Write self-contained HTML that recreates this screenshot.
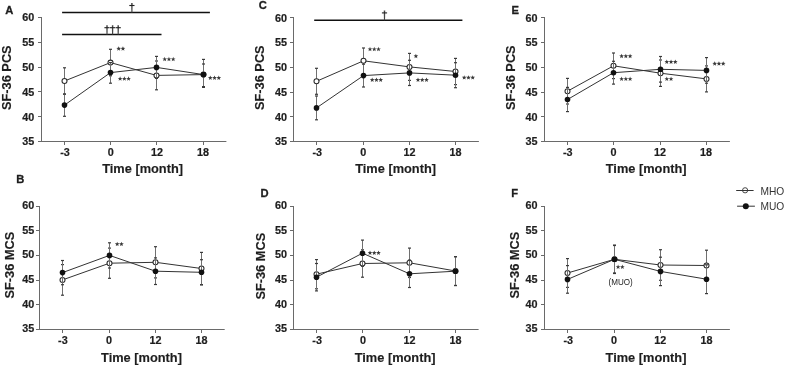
<!DOCTYPE html>
<html><head><meta charset="utf-8"><title>SF-36 PCS and MCS over time</title><style>
html,body{margin:0;padding:0;background:#fff;}
body{width:787px;height:365px;overflow:hidden;position:relative;}
text{font-family:"Liberation Sans", sans-serif;}
.tk{font-size:10.8px;font-weight:bold;fill:#1e1e1e;stroke:#1e1e1e;stroke-width:0.2px;}
.ti{font-size:12.8px;font-weight:bold;fill:#1e1e1e;stroke:#1e1e1e;stroke-width:0.15px;}
.lt{font-size:11.2px;font-weight:bold;fill:#1e1e1e;stroke:#1e1e1e;stroke-width:0.3px;}
.st{font-size:10px;fill:#444;}
.dg{font-size:11px;fill:#222;}
.lg{font-size:10.2px;fill:#333;}
.mu{font-size:8.2px;fill:#222;}
</style></head>
<body>
<svg width="787" height="365" viewBox="0 0 787 365" style="position:absolute;left:0;top:0;filter:blur(0.35px)">
<rect width="787" height="365" fill="#fff"/>
<line x1="41.50" y1="17.00" x2="41.50" y2="142.00" stroke="#6a6a6a" stroke-width="1"/>
<line x1="41.00" y1="141.50" x2="226.40" y2="141.50" stroke="#6a6a6a" stroke-width="1"/>
<line x1="38.00" y1="141.50" x2="41.50" y2="141.50" stroke="#6a6a6a" stroke-width="1"/>
<text x="34.20" y="145.35" text-anchor="end" class="tk">35</text>
<line x1="38.00" y1="116.50" x2="41.50" y2="116.50" stroke="#6a6a6a" stroke-width="1"/>
<text x="34.20" y="120.57" text-anchor="end" class="tk">40</text>
<line x1="38.00" y1="91.50" x2="41.50" y2="91.50" stroke="#6a6a6a" stroke-width="1"/>
<text x="34.20" y="95.79" text-anchor="end" class="tk">45</text>
<line x1="38.00" y1="67.50" x2="41.50" y2="67.50" stroke="#6a6a6a" stroke-width="1"/>
<text x="34.20" y="71.01" text-anchor="end" class="tk">50</text>
<line x1="38.00" y1="42.50" x2="41.50" y2="42.50" stroke="#6a6a6a" stroke-width="1"/>
<text x="34.20" y="46.23" text-anchor="end" class="tk">55</text>
<line x1="38.00" y1="17.50" x2="41.50" y2="17.50" stroke="#6a6a6a" stroke-width="1"/>
<text x="34.20" y="21.45" text-anchor="end" class="tk">60</text>
<line x1="64.50" y1="141.50" x2="64.50" y2="145.00" stroke="#6a6a6a" stroke-width="1"/>
<text x="65.00" y="155.60" text-anchor="middle" class="tk">-3</text>
<line x1="110.50" y1="141.50" x2="110.50" y2="145.00" stroke="#6a6a6a" stroke-width="1"/>
<text x="110.70" y="155.60" text-anchor="middle" class="tk">0</text>
<line x1="156.50" y1="141.50" x2="156.50" y2="145.00" stroke="#6a6a6a" stroke-width="1"/>
<text x="156.90" y="155.60" text-anchor="middle" class="tk">12</text>
<line x1="203.50" y1="141.50" x2="203.50" y2="145.00" stroke="#6a6a6a" stroke-width="1"/>
<text x="203.10" y="155.60" text-anchor="middle" class="tk">18</text>
<text transform="translate(11.10,77.70) rotate(-90)" text-anchor="middle" class="ti">SF-36 PCS</text>
<text x="142.60" y="173.20" text-anchor="middle" class="ti">Time [month]</text>
<text x="5.20" y="13.60" class="lt">A</text>
<line x1="64.50" y1="67.80" x2="64.50" y2="94.20" stroke="#707070" stroke-width="1"/>
<line x1="63.00" y1="67.80" x2="66.00" y2="67.80" stroke="#3a3a3a" stroke-width="1.2"/>
<line x1="63.00" y1="94.20" x2="66.00" y2="94.20" stroke="#3a3a3a" stroke-width="1.2"/>
<line x1="110.50" y1="49.30" x2="110.50" y2="75.80" stroke="#707070" stroke-width="1"/>
<line x1="109.00" y1="49.30" x2="112.00" y2="49.30" stroke="#3a3a3a" stroke-width="1.2"/>
<line x1="109.00" y1="75.80" x2="112.00" y2="75.80" stroke="#3a3a3a" stroke-width="1.2"/>
<line x1="156.50" y1="61.00" x2="156.50" y2="89.80" stroke="#707070" stroke-width="1"/>
<line x1="155.00" y1="61.00" x2="158.00" y2="61.00" stroke="#3a3a3a" stroke-width="1.2"/>
<line x1="155.00" y1="89.80" x2="158.00" y2="89.80" stroke="#3a3a3a" stroke-width="1.2"/>
<line x1="203.50" y1="59.40" x2="203.50" y2="87.40" stroke="#707070" stroke-width="1"/>
<line x1="202.00" y1="59.40" x2="205.00" y2="59.40" stroke="#3a3a3a" stroke-width="1.2"/>
<line x1="202.00" y1="87.40" x2="205.00" y2="87.40" stroke="#3a3a3a" stroke-width="1.2"/>
<polyline points="64.50,81.00 110.50,62.60 156.50,75.40 203.50,74.60" fill="none" stroke="#333" stroke-width="1"/>
<circle cx="64.50" cy="81.00" r="2.5" fill="#fff" stroke="#2a2a2a" stroke-width="1.05"/>
<circle cx="110.50" cy="62.60" r="2.5" fill="#fff" stroke="#2a2a2a" stroke-width="1.05"/>
<circle cx="156.50" cy="75.40" r="2.5" fill="#fff" stroke="#2a2a2a" stroke-width="1.05"/>
<circle cx="203.50" cy="74.60" r="2.5" fill="#fff" stroke="#2a2a2a" stroke-width="1.05"/>
<line x1="64.50" y1="94.00" x2="64.50" y2="116.30" stroke="#707070" stroke-width="1"/>
<line x1="63.00" y1="94.00" x2="66.00" y2="94.00" stroke="#3a3a3a" stroke-width="1.2"/>
<line x1="63.00" y1="116.30" x2="66.00" y2="116.30" stroke="#3a3a3a" stroke-width="1.2"/>
<line x1="110.50" y1="62.60" x2="110.50" y2="83.20" stroke="#707070" stroke-width="1"/>
<line x1="109.00" y1="62.60" x2="112.00" y2="62.60" stroke="#3a3a3a" stroke-width="1.2"/>
<line x1="109.00" y1="83.20" x2="112.00" y2="83.20" stroke="#3a3a3a" stroke-width="1.2"/>
<line x1="156.50" y1="56.40" x2="156.50" y2="78.40" stroke="#707070" stroke-width="1"/>
<line x1="155.00" y1="56.40" x2="158.00" y2="56.40" stroke="#3a3a3a" stroke-width="1.2"/>
<line x1="155.00" y1="78.40" x2="158.00" y2="78.40" stroke="#3a3a3a" stroke-width="1.2"/>
<line x1="203.50" y1="64.00" x2="203.50" y2="86.60" stroke="#707070" stroke-width="1"/>
<line x1="202.00" y1="64.00" x2="205.00" y2="64.00" stroke="#3a3a3a" stroke-width="1.2"/>
<line x1="202.00" y1="86.60" x2="205.00" y2="86.60" stroke="#3a3a3a" stroke-width="1.2"/>
<polyline points="64.50,105.10 110.50,72.60 156.50,67.40 203.50,74.60" fill="none" stroke="#333" stroke-width="1"/>
<circle cx="64.50" cy="105.10" r="2.8" fill="#111"/>
<circle cx="110.50" cy="72.60" r="2.8" fill="#111"/>
<circle cx="156.50" cy="67.40" r="2.8" fill="#111"/>
<circle cx="203.50" cy="74.60" r="2.8" fill="#111"/>
<line x1="39.50" y1="206.00" x2="39.50" y2="330.00" stroke="#6a6a6a" stroke-width="1"/>
<line x1="39.00" y1="329.50" x2="224.70" y2="329.50" stroke="#6a6a6a" stroke-width="1"/>
<line x1="36.00" y1="329.50" x2="39.50" y2="329.50" stroke="#6a6a6a" stroke-width="1"/>
<text x="34.30" y="332.35" text-anchor="end" class="tk">35</text>
<line x1="36.00" y1="304.50" x2="39.50" y2="304.50" stroke="#6a6a6a" stroke-width="1"/>
<text x="34.30" y="307.67" text-anchor="end" class="tk">40</text>
<line x1="36.00" y1="280.50" x2="39.50" y2="280.50" stroke="#6a6a6a" stroke-width="1"/>
<text x="34.30" y="282.99" text-anchor="end" class="tk">45</text>
<line x1="36.00" y1="255.50" x2="39.50" y2="255.50" stroke="#6a6a6a" stroke-width="1"/>
<text x="34.30" y="258.31" text-anchor="end" class="tk">50</text>
<line x1="36.00" y1="230.50" x2="39.50" y2="230.50" stroke="#6a6a6a" stroke-width="1"/>
<text x="34.30" y="233.63" text-anchor="end" class="tk">55</text>
<line x1="36.00" y1="206.50" x2="39.50" y2="206.50" stroke="#6a6a6a" stroke-width="1"/>
<text x="34.30" y="208.95" text-anchor="end" class="tk">60</text>
<line x1="62.50" y1="329.50" x2="62.50" y2="333.00" stroke="#6a6a6a" stroke-width="1"/>
<text x="62.90" y="343.50" text-anchor="middle" class="tk">-3</text>
<line x1="109.50" y1="329.50" x2="109.50" y2="333.00" stroke="#6a6a6a" stroke-width="1"/>
<text x="109.10" y="343.50" text-anchor="middle" class="tk">0</text>
<line x1="155.50" y1="329.50" x2="155.50" y2="333.00" stroke="#6a6a6a" stroke-width="1"/>
<text x="155.50" y="343.50" text-anchor="middle" class="tk">12</text>
<line x1="201.50" y1="329.50" x2="201.50" y2="333.00" stroke="#6a6a6a" stroke-width="1"/>
<text x="201.40" y="343.50" text-anchor="middle" class="tk">18</text>
<text transform="translate(14.40,265.10) rotate(-90)" text-anchor="middle" class="ti">SF-36 MCS</text>
<text x="141.50" y="362.00" text-anchor="middle" class="ti">Time [month]</text>
<text x="16.30" y="182.80" class="lt">B</text>
<line x1="62.50" y1="264.60" x2="62.50" y2="295.20" stroke="#707070" stroke-width="1"/>
<line x1="61.00" y1="264.60" x2="64.00" y2="264.60" stroke="#3a3a3a" stroke-width="1.2"/>
<line x1="61.00" y1="295.20" x2="64.00" y2="295.20" stroke="#3a3a3a" stroke-width="1.2"/>
<line x1="109.50" y1="248.10" x2="109.50" y2="278.30" stroke="#707070" stroke-width="1"/>
<line x1="108.00" y1="248.10" x2="111.00" y2="248.10" stroke="#3a3a3a" stroke-width="1.2"/>
<line x1="108.00" y1="278.30" x2="111.00" y2="278.30" stroke="#3a3a3a" stroke-width="1.2"/>
<line x1="155.50" y1="246.70" x2="155.50" y2="277.90" stroke="#707070" stroke-width="1"/>
<line x1="154.00" y1="246.70" x2="157.00" y2="246.70" stroke="#3a3a3a" stroke-width="1.2"/>
<line x1="154.00" y1="277.90" x2="157.00" y2="277.90" stroke="#3a3a3a" stroke-width="1.2"/>
<line x1="201.50" y1="252.40" x2="201.50" y2="284.60" stroke="#707070" stroke-width="1"/>
<line x1="200.00" y1="252.40" x2="203.00" y2="252.40" stroke="#3a3a3a" stroke-width="1.2"/>
<line x1="200.00" y1="284.60" x2="203.00" y2="284.60" stroke="#3a3a3a" stroke-width="1.2"/>
<polyline points="62.50,279.90 109.50,263.20 155.50,262.30 201.50,268.50" fill="none" stroke="#333" stroke-width="1"/>
<circle cx="62.50" cy="279.90" r="2.5" fill="#fff" stroke="#2a2a2a" stroke-width="1.05"/>
<circle cx="109.50" cy="263.20" r="2.5" fill="#fff" stroke="#2a2a2a" stroke-width="1.05"/>
<circle cx="155.50" cy="262.30" r="2.5" fill="#fff" stroke="#2a2a2a" stroke-width="1.05"/>
<circle cx="201.50" cy="268.50" r="2.5" fill="#fff" stroke="#2a2a2a" stroke-width="1.05"/>
<line x1="62.50" y1="260.50" x2="62.50" y2="284.70" stroke="#707070" stroke-width="1"/>
<line x1="61.00" y1="260.50" x2="64.00" y2="260.50" stroke="#3a3a3a" stroke-width="1.2"/>
<line x1="61.00" y1="284.70" x2="64.00" y2="284.70" stroke="#3a3a3a" stroke-width="1.2"/>
<line x1="109.50" y1="242.80" x2="109.50" y2="268.00" stroke="#707070" stroke-width="1"/>
<line x1="108.00" y1="242.80" x2="111.00" y2="242.80" stroke="#3a3a3a" stroke-width="1.2"/>
<line x1="108.00" y1="268.00" x2="111.00" y2="268.00" stroke="#3a3a3a" stroke-width="1.2"/>
<line x1="155.50" y1="257.90" x2="155.50" y2="284.50" stroke="#707070" stroke-width="1"/>
<line x1="154.00" y1="257.90" x2="157.00" y2="257.90" stroke="#3a3a3a" stroke-width="1.2"/>
<line x1="154.00" y1="284.50" x2="157.00" y2="284.50" stroke="#3a3a3a" stroke-width="1.2"/>
<line x1="201.50" y1="259.70" x2="201.50" y2="284.90" stroke="#707070" stroke-width="1"/>
<line x1="200.00" y1="259.70" x2="203.00" y2="259.70" stroke="#3a3a3a" stroke-width="1.2"/>
<line x1="200.00" y1="284.90" x2="203.00" y2="284.90" stroke="#3a3a3a" stroke-width="1.2"/>
<polyline points="62.50,272.60 109.50,255.40 155.50,271.20 201.50,272.30" fill="none" stroke="#333" stroke-width="1"/>
<circle cx="62.50" cy="272.60" r="2.8" fill="#111"/>
<circle cx="109.50" cy="255.40" r="2.8" fill="#111"/>
<circle cx="155.50" cy="271.20" r="2.8" fill="#111"/>
<circle cx="201.50" cy="272.30" r="2.8" fill="#111"/>
<line x1="293.50" y1="17.00" x2="293.50" y2="142.00" stroke="#6a6a6a" stroke-width="1"/>
<line x1="293.00" y1="141.50" x2="478.90" y2="141.50" stroke="#6a6a6a" stroke-width="1"/>
<line x1="290.00" y1="141.50" x2="293.50" y2="141.50" stroke="#6a6a6a" stroke-width="1"/>
<text x="287.00" y="145.25" text-anchor="end" class="tk">35</text>
<line x1="290.00" y1="116.50" x2="293.50" y2="116.50" stroke="#6a6a6a" stroke-width="1"/>
<text x="287.00" y="120.55" text-anchor="end" class="tk">40</text>
<line x1="290.00" y1="92.50" x2="293.50" y2="92.50" stroke="#6a6a6a" stroke-width="1"/>
<text x="287.00" y="95.85" text-anchor="end" class="tk">45</text>
<line x1="290.00" y1="67.50" x2="293.50" y2="67.50" stroke="#6a6a6a" stroke-width="1"/>
<text x="287.00" y="71.15" text-anchor="end" class="tk">50</text>
<line x1="290.00" y1="42.50" x2="293.50" y2="42.50" stroke="#6a6a6a" stroke-width="1"/>
<text x="287.00" y="46.45" text-anchor="end" class="tk">55</text>
<line x1="290.00" y1="17.50" x2="293.50" y2="17.50" stroke="#6a6a6a" stroke-width="1"/>
<text x="287.00" y="21.75" text-anchor="end" class="tk">60</text>
<line x1="316.50" y1="141.50" x2="316.50" y2="145.00" stroke="#6a6a6a" stroke-width="1"/>
<text x="317.20" y="155.60" text-anchor="middle" class="tk">-3</text>
<line x1="363.50" y1="141.50" x2="363.50" y2="145.00" stroke="#6a6a6a" stroke-width="1"/>
<text x="363.20" y="155.60" text-anchor="middle" class="tk">0</text>
<line x1="409.50" y1="141.50" x2="409.50" y2="145.00" stroke="#6a6a6a" stroke-width="1"/>
<text x="409.40" y="155.60" text-anchor="middle" class="tk">12</text>
<line x1="455.50" y1="141.50" x2="455.50" y2="145.00" stroke="#6a6a6a" stroke-width="1"/>
<text x="455.50" y="155.60" text-anchor="middle" class="tk">18</text>
<text transform="translate(263.80,77.70) rotate(-90)" text-anchor="middle" class="ti">SF-36 PCS</text>
<text x="395.60" y="173.20" text-anchor="middle" class="ti">Time [month]</text>
<text x="258.80" y="8.90" class="lt">C</text>
<line x1="316.50" y1="68.30" x2="316.50" y2="94.30" stroke="#707070" stroke-width="1"/>
<line x1="315.00" y1="68.30" x2="318.00" y2="68.30" stroke="#3a3a3a" stroke-width="1.2"/>
<line x1="315.00" y1="94.30" x2="318.00" y2="94.30" stroke="#3a3a3a" stroke-width="1.2"/>
<line x1="363.50" y1="48.00" x2="363.50" y2="73.60" stroke="#707070" stroke-width="1"/>
<line x1="362.00" y1="48.00" x2="365.00" y2="48.00" stroke="#3a3a3a" stroke-width="1.2"/>
<line x1="362.00" y1="73.60" x2="365.00" y2="73.60" stroke="#3a3a3a" stroke-width="1.2"/>
<line x1="409.50" y1="53.40" x2="409.50" y2="80.40" stroke="#707070" stroke-width="1"/>
<line x1="408.00" y1="53.40" x2="411.00" y2="53.40" stroke="#3a3a3a" stroke-width="1.2"/>
<line x1="408.00" y1="80.40" x2="411.00" y2="80.40" stroke="#3a3a3a" stroke-width="1.2"/>
<line x1="455.50" y1="58.40" x2="455.50" y2="84.60" stroke="#707070" stroke-width="1"/>
<line x1="454.00" y1="58.40" x2="457.00" y2="58.40" stroke="#3a3a3a" stroke-width="1.2"/>
<line x1="454.00" y1="84.60" x2="457.00" y2="84.60" stroke="#3a3a3a" stroke-width="1.2"/>
<polyline points="316.50,81.30 363.50,60.80 409.50,66.90 455.50,71.50" fill="none" stroke="#333" stroke-width="1"/>
<circle cx="316.50" cy="81.30" r="2.5" fill="#fff" stroke="#2a2a2a" stroke-width="1.05"/>
<circle cx="363.50" cy="60.80" r="2.5" fill="#fff" stroke="#2a2a2a" stroke-width="1.05"/>
<circle cx="409.50" cy="66.90" r="2.5" fill="#fff" stroke="#2a2a2a" stroke-width="1.05"/>
<circle cx="455.50" cy="71.50" r="2.5" fill="#fff" stroke="#2a2a2a" stroke-width="1.05"/>
<line x1="316.50" y1="96.00" x2="316.50" y2="119.80" stroke="#707070" stroke-width="1"/>
<line x1="315.00" y1="96.00" x2="318.00" y2="96.00" stroke="#3a3a3a" stroke-width="1.2"/>
<line x1="315.00" y1="119.80" x2="318.00" y2="119.80" stroke="#3a3a3a" stroke-width="1.2"/>
<line x1="363.50" y1="64.20" x2="363.50" y2="87.00" stroke="#707070" stroke-width="1"/>
<line x1="362.00" y1="64.20" x2="365.00" y2="64.20" stroke="#3a3a3a" stroke-width="1.2"/>
<line x1="362.00" y1="87.00" x2="365.00" y2="87.00" stroke="#3a3a3a" stroke-width="1.2"/>
<line x1="409.50" y1="60.30" x2="409.50" y2="85.50" stroke="#707070" stroke-width="1"/>
<line x1="408.00" y1="60.30" x2="411.00" y2="60.30" stroke="#3a3a3a" stroke-width="1.2"/>
<line x1="408.00" y1="85.50" x2="411.00" y2="85.50" stroke="#3a3a3a" stroke-width="1.2"/>
<line x1="455.50" y1="62.70" x2="455.50" y2="87.70" stroke="#707070" stroke-width="1"/>
<line x1="454.00" y1="62.70" x2="457.00" y2="62.70" stroke="#3a3a3a" stroke-width="1.2"/>
<line x1="454.00" y1="87.70" x2="457.00" y2="87.70" stroke="#3a3a3a" stroke-width="1.2"/>
<polyline points="316.50,107.90 363.50,75.60 409.50,72.90 455.50,75.20" fill="none" stroke="#333" stroke-width="1"/>
<circle cx="316.50" cy="107.90" r="2.8" fill="#111"/>
<circle cx="363.50" cy="75.60" r="2.8" fill="#111"/>
<circle cx="409.50" cy="72.90" r="2.8" fill="#111"/>
<circle cx="455.50" cy="75.20" r="2.8" fill="#111"/>
<line x1="293.50" y1="206.00" x2="293.50" y2="330.00" stroke="#6a6a6a" stroke-width="1"/>
<line x1="293.00" y1="329.50" x2="478.60" y2="329.50" stroke="#6a6a6a" stroke-width="1"/>
<line x1="290.00" y1="329.50" x2="293.50" y2="329.50" stroke="#6a6a6a" stroke-width="1"/>
<text x="287.00" y="332.35" text-anchor="end" class="tk">35</text>
<line x1="290.00" y1="304.50" x2="293.50" y2="304.50" stroke="#6a6a6a" stroke-width="1"/>
<text x="287.00" y="307.67" text-anchor="end" class="tk">40</text>
<line x1="290.00" y1="280.50" x2="293.50" y2="280.50" stroke="#6a6a6a" stroke-width="1"/>
<text x="287.00" y="282.99" text-anchor="end" class="tk">45</text>
<line x1="290.00" y1="255.50" x2="293.50" y2="255.50" stroke="#6a6a6a" stroke-width="1"/>
<text x="287.00" y="258.31" text-anchor="end" class="tk">50</text>
<line x1="290.00" y1="230.50" x2="293.50" y2="230.50" stroke="#6a6a6a" stroke-width="1"/>
<text x="287.00" y="233.63" text-anchor="end" class="tk">55</text>
<line x1="290.00" y1="206.50" x2="293.50" y2="206.50" stroke="#6a6a6a" stroke-width="1"/>
<text x="287.00" y="208.95" text-anchor="end" class="tk">60</text>
<line x1="316.50" y1="329.50" x2="316.50" y2="333.00" stroke="#6a6a6a" stroke-width="1"/>
<text x="317.10" y="343.50" text-anchor="middle" class="tk">-3</text>
<line x1="362.50" y1="329.50" x2="362.50" y2="333.00" stroke="#6a6a6a" stroke-width="1"/>
<text x="362.90" y="343.50" text-anchor="middle" class="tk">0</text>
<line x1="409.50" y1="329.50" x2="409.50" y2="333.00" stroke="#6a6a6a" stroke-width="1"/>
<text x="409.50" y="343.50" text-anchor="middle" class="tk">12</text>
<line x1="455.50" y1="329.50" x2="455.50" y2="333.00" stroke="#6a6a6a" stroke-width="1"/>
<text x="455.40" y="343.50" text-anchor="middle" class="tk">18</text>
<text transform="translate(265.40,266.20) rotate(-90)" text-anchor="middle" class="ti">SF-36 MCS</text>
<text x="395.10" y="362.00" text-anchor="middle" class="ti">Time [month]</text>
<text x="260.40" y="197.10" class="lt">D</text>
<line x1="316.50" y1="259.60" x2="316.50" y2="288.80" stroke="#707070" stroke-width="1"/>
<line x1="315.00" y1="259.60" x2="318.00" y2="259.60" stroke="#3a3a3a" stroke-width="1.2"/>
<line x1="315.00" y1="288.80" x2="318.00" y2="288.80" stroke="#3a3a3a" stroke-width="1.2"/>
<line x1="362.50" y1="249.80" x2="362.50" y2="277.20" stroke="#707070" stroke-width="1"/>
<line x1="361.00" y1="249.80" x2="364.00" y2="249.80" stroke="#3a3a3a" stroke-width="1.2"/>
<line x1="361.00" y1="277.20" x2="364.00" y2="277.20" stroke="#3a3a3a" stroke-width="1.2"/>
<line x1="409.50" y1="248.10" x2="409.50" y2="277.50" stroke="#707070" stroke-width="1"/>
<line x1="408.00" y1="248.10" x2="411.00" y2="248.10" stroke="#3a3a3a" stroke-width="1.2"/>
<line x1="408.00" y1="277.50" x2="411.00" y2="277.50" stroke="#3a3a3a" stroke-width="1.2"/>
<line x1="455.50" y1="256.60" x2="455.50" y2="285.40" stroke="#707070" stroke-width="1"/>
<line x1="454.00" y1="256.60" x2="457.00" y2="256.60" stroke="#3a3a3a" stroke-width="1.2"/>
<line x1="454.00" y1="285.40" x2="457.00" y2="285.40" stroke="#3a3a3a" stroke-width="1.2"/>
<polyline points="316.50,274.20 362.50,263.50 409.50,262.80 455.50,271.00" fill="none" stroke="#333" stroke-width="1"/>
<circle cx="316.50" cy="274.20" r="2.5" fill="#fff" stroke="#2a2a2a" stroke-width="1.05"/>
<circle cx="362.50" cy="263.50" r="2.5" fill="#fff" stroke="#2a2a2a" stroke-width="1.05"/>
<circle cx="409.50" cy="262.80" r="2.5" fill="#fff" stroke="#2a2a2a" stroke-width="1.05"/>
<circle cx="455.50" cy="271.00" r="2.5" fill="#fff" stroke="#2a2a2a" stroke-width="1.05"/>
<line x1="316.50" y1="263.50" x2="316.50" y2="290.90" stroke="#707070" stroke-width="1"/>
<line x1="315.00" y1="263.50" x2="318.00" y2="263.50" stroke="#3a3a3a" stroke-width="1.2"/>
<line x1="315.00" y1="290.90" x2="318.00" y2="290.90" stroke="#3a3a3a" stroke-width="1.2"/>
<line x1="362.50" y1="240.10" x2="362.50" y2="266.30" stroke="#707070" stroke-width="1"/>
<line x1="361.00" y1="240.10" x2="364.00" y2="240.10" stroke="#3a3a3a" stroke-width="1.2"/>
<line x1="361.00" y1="266.30" x2="364.00" y2="266.30" stroke="#3a3a3a" stroke-width="1.2"/>
<line x1="409.50" y1="260.10" x2="409.50" y2="287.50" stroke="#707070" stroke-width="1"/>
<line x1="408.00" y1="260.10" x2="411.00" y2="260.10" stroke="#3a3a3a" stroke-width="1.2"/>
<line x1="408.00" y1="287.50" x2="411.00" y2="287.50" stroke="#3a3a3a" stroke-width="1.2"/>
<line x1="455.50" y1="256.80" x2="455.50" y2="285.60" stroke="#707070" stroke-width="1"/>
<line x1="454.00" y1="256.80" x2="457.00" y2="256.80" stroke="#3a3a3a" stroke-width="1.2"/>
<line x1="454.00" y1="285.60" x2="457.00" y2="285.60" stroke="#3a3a3a" stroke-width="1.2"/>
<polyline points="316.50,277.20 362.50,253.20 409.50,273.80 455.50,271.20" fill="none" stroke="#333" stroke-width="1"/>
<circle cx="316.50" cy="277.20" r="2.8" fill="#111"/>
<circle cx="362.50" cy="253.20" r="2.8" fill="#111"/>
<circle cx="409.50" cy="273.80" r="2.8" fill="#111"/>
<circle cx="455.50" cy="271.20" r="2.8" fill="#111"/>
<line x1="544.50" y1="17.00" x2="544.50" y2="142.00" stroke="#6a6a6a" stroke-width="1"/>
<line x1="544.00" y1="141.50" x2="729.90" y2="141.50" stroke="#6a6a6a" stroke-width="1"/>
<line x1="541.00" y1="141.50" x2="544.50" y2="141.50" stroke="#6a6a6a" stroke-width="1"/>
<text x="537.50" y="145.25" text-anchor="end" class="tk">35</text>
<line x1="541.00" y1="116.50" x2="544.50" y2="116.50" stroke="#6a6a6a" stroke-width="1"/>
<text x="537.50" y="120.55" text-anchor="end" class="tk">40</text>
<line x1="541.00" y1="92.50" x2="544.50" y2="92.50" stroke="#6a6a6a" stroke-width="1"/>
<text x="537.50" y="95.85" text-anchor="end" class="tk">45</text>
<line x1="541.00" y1="67.50" x2="544.50" y2="67.50" stroke="#6a6a6a" stroke-width="1"/>
<text x="537.50" y="71.15" text-anchor="end" class="tk">50</text>
<line x1="541.00" y1="42.50" x2="544.50" y2="42.50" stroke="#6a6a6a" stroke-width="1"/>
<text x="537.50" y="46.45" text-anchor="end" class="tk">55</text>
<line x1="541.00" y1="17.50" x2="544.50" y2="17.50" stroke="#6a6a6a" stroke-width="1"/>
<text x="537.50" y="21.75" text-anchor="end" class="tk">60</text>
<line x1="567.50" y1="141.50" x2="567.50" y2="145.00" stroke="#6a6a6a" stroke-width="1"/>
<text x="567.80" y="155.60" text-anchor="middle" class="tk">-3</text>
<line x1="613.50" y1="141.50" x2="613.50" y2="145.00" stroke="#6a6a6a" stroke-width="1"/>
<text x="613.60" y="155.60" text-anchor="middle" class="tk">0</text>
<line x1="660.50" y1="141.50" x2="660.50" y2="145.00" stroke="#6a6a6a" stroke-width="1"/>
<text x="660.00" y="155.60" text-anchor="middle" class="tk">12</text>
<line x1="706.50" y1="141.50" x2="706.50" y2="145.00" stroke="#6a6a6a" stroke-width="1"/>
<text x="706.10" y="155.60" text-anchor="middle" class="tk">18</text>
<text transform="translate(515.00,77.70) rotate(-90)" text-anchor="middle" class="ti">SF-36 PCS</text>
<text x="646.20" y="173.20" text-anchor="middle" class="ti">Time [month]</text>
<text x="511.40" y="13.60" class="lt">E</text>
<line x1="567.50" y1="78.40" x2="567.50" y2="104.00" stroke="#707070" stroke-width="1"/>
<line x1="566.00" y1="78.40" x2="569.00" y2="78.40" stroke="#3a3a3a" stroke-width="1.2"/>
<line x1="566.00" y1="104.00" x2="569.00" y2="104.00" stroke="#3a3a3a" stroke-width="1.2"/>
<line x1="613.50" y1="53.00" x2="613.50" y2="78.60" stroke="#707070" stroke-width="1"/>
<line x1="612.00" y1="53.00" x2="615.00" y2="53.00" stroke="#3a3a3a" stroke-width="1.2"/>
<line x1="612.00" y1="78.60" x2="615.00" y2="78.60" stroke="#3a3a3a" stroke-width="1.2"/>
<line x1="660.50" y1="60.00" x2="660.50" y2="86.40" stroke="#707070" stroke-width="1"/>
<line x1="659.00" y1="60.00" x2="662.00" y2="60.00" stroke="#3a3a3a" stroke-width="1.2"/>
<line x1="659.00" y1="86.40" x2="662.00" y2="86.40" stroke="#3a3a3a" stroke-width="1.2"/>
<line x1="706.50" y1="65.90" x2="706.50" y2="91.90" stroke="#707070" stroke-width="1"/>
<line x1="705.00" y1="65.90" x2="708.00" y2="65.90" stroke="#3a3a3a" stroke-width="1.2"/>
<line x1="705.00" y1="91.90" x2="708.00" y2="91.90" stroke="#3a3a3a" stroke-width="1.2"/>
<polyline points="567.50,91.20 613.50,65.80 660.50,73.20 706.50,78.90" fill="none" stroke="#333" stroke-width="1"/>
<circle cx="567.50" cy="91.20" r="2.5" fill="#fff" stroke="#2a2a2a" stroke-width="1.05"/>
<circle cx="613.50" cy="65.80" r="2.5" fill="#fff" stroke="#2a2a2a" stroke-width="1.05"/>
<circle cx="660.50" cy="73.20" r="2.5" fill="#fff" stroke="#2a2a2a" stroke-width="1.05"/>
<circle cx="706.50" cy="78.90" r="2.5" fill="#fff" stroke="#2a2a2a" stroke-width="1.05"/>
<line x1="567.50" y1="87.40" x2="567.50" y2="111.60" stroke="#707070" stroke-width="1"/>
<line x1="566.00" y1="87.40" x2="569.00" y2="87.40" stroke="#3a3a3a" stroke-width="1.2"/>
<line x1="566.00" y1="111.60" x2="569.00" y2="111.60" stroke="#3a3a3a" stroke-width="1.2"/>
<line x1="613.50" y1="61.30" x2="613.50" y2="84.10" stroke="#707070" stroke-width="1"/>
<line x1="612.00" y1="61.30" x2="615.00" y2="61.30" stroke="#3a3a3a" stroke-width="1.2"/>
<line x1="612.00" y1="84.10" x2="615.00" y2="84.10" stroke="#3a3a3a" stroke-width="1.2"/>
<line x1="660.50" y1="56.50" x2="660.50" y2="82.10" stroke="#707070" stroke-width="1"/>
<line x1="659.00" y1="56.50" x2="662.00" y2="56.50" stroke="#3a3a3a" stroke-width="1.2"/>
<line x1="659.00" y1="82.10" x2="662.00" y2="82.10" stroke="#3a3a3a" stroke-width="1.2"/>
<line x1="706.50" y1="57.60" x2="706.50" y2="83.20" stroke="#707070" stroke-width="1"/>
<line x1="705.00" y1="57.60" x2="708.00" y2="57.60" stroke="#3a3a3a" stroke-width="1.2"/>
<line x1="705.00" y1="83.20" x2="708.00" y2="83.20" stroke="#3a3a3a" stroke-width="1.2"/>
<polyline points="567.50,99.50 613.50,72.70 660.50,69.30 706.50,70.40" fill="none" stroke="#333" stroke-width="1"/>
<circle cx="567.50" cy="99.50" r="2.8" fill="#111"/>
<circle cx="613.50" cy="72.70" r="2.8" fill="#111"/>
<circle cx="660.50" cy="69.30" r="2.8" fill="#111"/>
<circle cx="706.50" cy="70.40" r="2.8" fill="#111"/>
<line x1="544.50" y1="206.00" x2="544.50" y2="330.00" stroke="#6a6a6a" stroke-width="1"/>
<line x1="544.00" y1="329.50" x2="729.90" y2="329.50" stroke="#6a6a6a" stroke-width="1"/>
<line x1="541.00" y1="329.50" x2="544.50" y2="329.50" stroke="#6a6a6a" stroke-width="1"/>
<text x="537.60" y="332.35" text-anchor="end" class="tk">35</text>
<line x1="541.00" y1="304.50" x2="544.50" y2="304.50" stroke="#6a6a6a" stroke-width="1"/>
<text x="537.60" y="307.67" text-anchor="end" class="tk">40</text>
<line x1="541.00" y1="280.50" x2="544.50" y2="280.50" stroke="#6a6a6a" stroke-width="1"/>
<text x="537.60" y="282.99" text-anchor="end" class="tk">45</text>
<line x1="541.00" y1="255.50" x2="544.50" y2="255.50" stroke="#6a6a6a" stroke-width="1"/>
<text x="537.60" y="258.31" text-anchor="end" class="tk">50</text>
<line x1="541.00" y1="230.50" x2="544.50" y2="230.50" stroke="#6a6a6a" stroke-width="1"/>
<text x="537.60" y="233.63" text-anchor="end" class="tk">55</text>
<line x1="541.00" y1="206.50" x2="544.50" y2="206.50" stroke="#6a6a6a" stroke-width="1"/>
<text x="537.60" y="208.95" text-anchor="end" class="tk">60</text>
<line x1="567.50" y1="329.50" x2="567.50" y2="333.00" stroke="#6a6a6a" stroke-width="1"/>
<text x="568.30" y="343.50" text-anchor="middle" class="tk">-3</text>
<line x1="614.50" y1="329.50" x2="614.50" y2="333.00" stroke="#6a6a6a" stroke-width="1"/>
<text x="614.10" y="343.50" text-anchor="middle" class="tk">0</text>
<line x1="660.50" y1="329.50" x2="660.50" y2="333.00" stroke="#6a6a6a" stroke-width="1"/>
<text x="660.20" y="343.50" text-anchor="middle" class="tk">12</text>
<line x1="706.50" y1="329.50" x2="706.50" y2="333.00" stroke="#6a6a6a" stroke-width="1"/>
<text x="706.60" y="343.50" text-anchor="middle" class="tk">18</text>
<text transform="translate(519.40,265.10) rotate(-90)" text-anchor="middle" class="ti">SF-36 MCS</text>
<text x="646.00" y="362.00" text-anchor="middle" class="ti">Time [month]</text>
<text x="511.20" y="197.10" class="lt">F</text>
<line x1="567.50" y1="258.60" x2="567.50" y2="287.40" stroke="#707070" stroke-width="1"/>
<line x1="566.00" y1="258.60" x2="569.00" y2="258.60" stroke="#3a3a3a" stroke-width="1.2"/>
<line x1="566.00" y1="287.40" x2="569.00" y2="287.40" stroke="#3a3a3a" stroke-width="1.2"/>
<line x1="614.50" y1="245.10" x2="614.50" y2="273.50" stroke="#707070" stroke-width="1"/>
<line x1="613.00" y1="245.10" x2="616.00" y2="245.10" stroke="#3a3a3a" stroke-width="1.2"/>
<line x1="613.00" y1="273.50" x2="616.00" y2="273.50" stroke="#3a3a3a" stroke-width="1.2"/>
<line x1="660.50" y1="249.70" x2="660.50" y2="280.30" stroke="#707070" stroke-width="1"/>
<line x1="659.00" y1="249.70" x2="662.00" y2="249.70" stroke="#3a3a3a" stroke-width="1.2"/>
<line x1="659.00" y1="280.30" x2="662.00" y2="280.30" stroke="#3a3a3a" stroke-width="1.2"/>
<line x1="706.50" y1="250.20" x2="706.50" y2="280.80" stroke="#707070" stroke-width="1"/>
<line x1="705.00" y1="250.20" x2="708.00" y2="250.20" stroke="#3a3a3a" stroke-width="1.2"/>
<line x1="705.00" y1="280.80" x2="708.00" y2="280.80" stroke="#3a3a3a" stroke-width="1.2"/>
<polyline points="567.50,273.00 614.50,259.30 660.50,265.00 706.50,265.50" fill="none" stroke="#333" stroke-width="1"/>
<circle cx="567.50" cy="273.00" r="2.5" fill="#fff" stroke="#2a2a2a" stroke-width="1.05"/>
<circle cx="614.50" cy="259.30" r="2.5" fill="#fff" stroke="#2a2a2a" stroke-width="1.05"/>
<circle cx="660.50" cy="265.00" r="2.5" fill="#fff" stroke="#2a2a2a" stroke-width="1.05"/>
<circle cx="706.50" cy="265.50" r="2.5" fill="#fff" stroke="#2a2a2a" stroke-width="1.05"/>
<line x1="567.50" y1="265.60" x2="567.50" y2="293.20" stroke="#707070" stroke-width="1"/>
<line x1="566.00" y1="265.60" x2="569.00" y2="265.60" stroke="#3a3a3a" stroke-width="1.2"/>
<line x1="566.00" y1="293.20" x2="569.00" y2="293.20" stroke="#3a3a3a" stroke-width="1.2"/>
<line x1="614.50" y1="245.50" x2="614.50" y2="273.00" stroke="#707070" stroke-width="1"/>
<line x1="613.00" y1="245.50" x2="616.00" y2="245.50" stroke="#3a3a3a" stroke-width="1.2"/>
<line x1="613.00" y1="273.00" x2="616.00" y2="273.00" stroke="#3a3a3a" stroke-width="1.2"/>
<line x1="660.50" y1="257.20" x2="660.50" y2="285.60" stroke="#707070" stroke-width="1"/>
<line x1="659.00" y1="257.20" x2="662.00" y2="257.20" stroke="#3a3a3a" stroke-width="1.2"/>
<line x1="659.00" y1="285.60" x2="662.00" y2="285.60" stroke="#3a3a3a" stroke-width="1.2"/>
<line x1="706.50" y1="264.80" x2="706.50" y2="293.60" stroke="#707070" stroke-width="1"/>
<line x1="705.00" y1="264.80" x2="708.00" y2="264.80" stroke="#3a3a3a" stroke-width="1.2"/>
<line x1="705.00" y1="293.60" x2="708.00" y2="293.60" stroke="#3a3a3a" stroke-width="1.2"/>
<polyline points="567.50,279.40 614.50,259.30 660.50,271.40 706.50,279.20" fill="none" stroke="#333" stroke-width="1"/>
<circle cx="567.50" cy="279.40" r="2.8" fill="#111"/>
<circle cx="614.50" cy="259.30" r="2.8" fill="#111"/>
<circle cx="660.50" cy="271.40" r="2.8" fill="#111"/>
<circle cx="706.50" cy="279.20" r="2.8" fill="#111"/>
<polygon points="118.70,46.25 119.32,47.85 121.03,47.94 119.70,49.02 120.14,50.68 118.70,49.75 117.26,50.68 117.70,49.02 116.37,47.94 118.08,47.85" fill="#3a3a3a"/>
<polygon points="122.95,46.25 123.57,47.85 125.28,47.94 123.95,49.02 124.39,50.68 122.95,49.75 121.51,50.68 121.95,49.02 120.62,47.94 122.33,47.85" fill="#3a3a3a"/>
<polygon points="120.10,76.35 120.72,77.95 122.43,78.04 121.10,79.12 121.54,80.78 120.10,79.85 118.66,80.78 119.10,79.12 117.77,78.04 119.48,77.95" fill="#3a3a3a"/>
<polygon points="124.35,76.35 124.97,77.95 126.68,78.04 125.35,79.12 125.79,80.78 124.35,79.85 122.91,80.78 123.35,79.12 122.02,78.04 123.73,77.95" fill="#3a3a3a"/>
<polygon points="128.60,76.35 129.22,77.95 130.93,78.04 129.60,79.12 130.04,80.78 128.60,79.85 127.16,80.78 127.60,79.12 126.27,78.04 127.98,77.95" fill="#3a3a3a"/>
<polygon points="164.70,56.85 165.32,58.45 167.03,58.54 165.70,59.62 166.14,61.28 164.70,60.35 163.26,61.28 163.70,59.62 162.37,58.54 164.08,58.45" fill="#3a3a3a"/>
<polygon points="168.95,56.85 169.57,58.45 171.28,58.54 169.95,59.62 170.39,61.28 168.95,60.35 167.51,61.28 167.95,59.62 166.62,58.54 168.33,58.45" fill="#3a3a3a"/>
<polygon points="173.20,56.85 173.82,58.45 175.53,58.54 174.20,59.62 174.64,61.28 173.20,60.35 171.76,61.28 172.20,59.62 170.87,58.54 172.58,58.45" fill="#3a3a3a"/>
<polygon points="210.30,75.45 210.92,77.05 212.63,77.14 211.30,78.22 211.74,79.88 210.30,78.95 208.86,79.88 209.30,78.22 207.97,77.14 209.68,77.05" fill="#3a3a3a"/>
<polygon points="214.55,75.45 215.17,77.05 216.88,77.14 215.55,78.22 215.99,79.88 214.55,78.95 213.11,79.88 213.55,78.22 212.22,77.14 213.93,77.05" fill="#3a3a3a"/>
<polygon points="218.80,75.45 219.42,77.05 221.13,77.14 219.80,78.22 220.24,79.88 218.80,78.95 217.36,79.88 217.80,78.22 216.47,77.14 218.18,77.05" fill="#3a3a3a"/>
<polygon points="117.20,241.65 117.82,243.25 119.53,243.34 118.20,244.42 118.64,246.08 117.20,245.15 115.76,246.08 116.20,244.42 114.87,243.34 116.58,243.25" fill="#3a3a3a"/>
<polygon points="121.45,241.65 122.07,243.25 123.78,243.34 122.45,244.42 122.89,246.08 121.45,245.15 120.01,246.08 120.45,244.42 119.12,243.34 120.83,243.25" fill="#3a3a3a"/>
<polygon points="370.00,46.85 370.62,48.45 372.33,48.54 371.00,49.62 371.44,51.28 370.00,50.35 368.56,51.28 369.00,49.62 367.67,48.54 369.38,48.45" fill="#3a3a3a"/>
<polygon points="374.25,46.85 374.87,48.45 376.58,48.54 375.25,49.62 375.69,51.28 374.25,50.35 372.81,51.28 373.25,49.62 371.92,48.54 373.63,48.45" fill="#3a3a3a"/>
<polygon points="378.50,46.85 379.12,48.45 380.83,48.54 379.50,49.62 379.94,51.28 378.50,50.35 377.06,51.28 377.50,49.62 376.17,48.54 377.88,48.45" fill="#3a3a3a"/>
<polygon points="372.20,77.45 372.82,79.05 374.53,79.14 373.20,80.22 373.64,81.88 372.20,80.95 370.76,81.88 371.20,80.22 369.87,79.14 371.58,79.05" fill="#3a3a3a"/>
<polygon points="376.45,77.45 377.07,79.05 378.78,79.14 377.45,80.22 377.89,81.88 376.45,80.95 375.01,81.88 375.45,80.22 374.12,79.14 375.83,79.05" fill="#3a3a3a"/>
<polygon points="380.70,77.45 381.32,79.05 383.03,79.14 381.70,80.22 382.14,81.88 380.70,80.95 379.26,81.88 379.70,80.22 378.37,79.14 380.08,79.05" fill="#3a3a3a"/>
<polygon points="415.90,53.75 416.52,55.35 418.23,55.44 416.90,56.52 417.34,58.18 415.90,57.25 414.46,58.18 414.90,56.52 413.57,55.44 415.28,55.35" fill="#3a3a3a"/>
<polygon points="418.00,77.45 418.62,79.05 420.33,79.14 419.00,80.22 419.44,81.88 418.00,80.95 416.56,81.88 417.00,80.22 415.67,79.14 417.38,79.05" fill="#3a3a3a"/>
<polygon points="422.25,77.45 422.87,79.05 424.58,79.14 423.25,80.22 423.69,81.88 422.25,80.95 420.81,81.88 421.25,80.22 419.92,79.14 421.63,79.05" fill="#3a3a3a"/>
<polygon points="426.50,77.45 427.12,79.05 428.83,79.14 427.50,80.22 427.94,81.88 426.50,80.95 425.06,81.88 425.50,80.22 424.17,79.14 425.88,79.05" fill="#3a3a3a"/>
<polygon points="464.20,75.15 464.82,76.75 466.53,76.84 465.20,77.92 465.64,79.58 464.20,78.65 462.76,79.58 463.20,77.92 461.87,76.84 463.58,76.75" fill="#3a3a3a"/>
<polygon points="468.45,75.15 469.07,76.75 470.78,76.84 469.45,77.92 469.89,79.58 468.45,78.65 467.01,79.58 467.45,77.92 466.12,76.84 467.83,76.75" fill="#3a3a3a"/>
<polygon points="472.70,75.15 473.32,76.75 475.03,76.84 473.70,77.92 474.14,79.58 472.70,78.65 471.26,79.58 471.70,77.92 470.37,76.84 472.08,76.75" fill="#3a3a3a"/>
<polygon points="370.00,250.45 370.62,252.05 372.33,252.14 371.00,253.22 371.44,254.88 370.00,253.95 368.56,254.88 369.00,253.22 367.67,252.14 369.38,252.05" fill="#3a3a3a"/>
<polygon points="374.25,250.45 374.87,252.05 376.58,252.14 375.25,253.22 375.69,254.88 374.25,253.95 372.81,254.88 373.25,253.22 371.92,252.14 373.63,252.05" fill="#3a3a3a"/>
<polygon points="378.50,250.45 379.12,252.05 380.83,252.14 379.50,253.22 379.94,254.88 378.50,253.95 377.06,254.88 377.50,253.22 376.17,252.14 377.88,252.05" fill="#3a3a3a"/>
<polygon points="621.60,53.75 622.22,55.35 623.93,55.44 622.60,56.52 623.04,58.18 621.60,57.25 620.16,58.18 620.60,56.52 619.27,55.44 620.98,55.35" fill="#3a3a3a"/>
<polygon points="625.85,53.75 626.47,55.35 628.18,55.44 626.85,56.52 627.29,58.18 625.85,57.25 624.41,58.18 624.85,56.52 623.52,55.44 625.23,55.35" fill="#3a3a3a"/>
<polygon points="630.10,53.75 630.72,55.35 632.43,55.44 631.10,56.52 631.54,58.18 630.10,57.25 628.66,58.18 629.10,56.52 627.77,55.44 629.48,55.35" fill="#3a3a3a"/>
<polygon points="621.60,76.55 622.22,78.15 623.93,78.24 622.60,79.32 623.04,80.98 621.60,80.05 620.16,80.98 620.60,79.32 619.27,78.24 620.98,78.15" fill="#3a3a3a"/>
<polygon points="625.85,76.55 626.47,78.15 628.18,78.24 626.85,79.32 627.29,80.98 625.85,80.05 624.41,80.98 624.85,79.32 623.52,78.24 625.23,78.15" fill="#3a3a3a"/>
<polygon points="630.10,76.55 630.72,78.15 632.43,78.24 631.10,79.32 631.54,80.98 630.10,80.05 628.66,80.98 629.10,79.32 627.77,78.24 629.48,78.15" fill="#3a3a3a"/>
<polygon points="666.80,59.45 667.42,61.05 669.13,61.14 667.80,62.22 668.24,63.88 666.80,62.95 665.36,63.88 665.80,62.22 664.47,61.14 666.18,61.05" fill="#3a3a3a"/>
<polygon points="671.05,59.45 671.67,61.05 673.38,61.14 672.05,62.22 672.49,63.88 671.05,62.95 669.61,63.88 670.05,62.22 668.72,61.14 670.43,61.05" fill="#3a3a3a"/>
<polygon points="675.30,59.45 675.92,61.05 677.63,61.14 676.30,62.22 676.74,63.88 675.30,62.95 673.86,63.88 674.30,62.22 672.97,61.14 674.68,61.05" fill="#3a3a3a"/>
<polygon points="666.80,76.55 667.42,78.15 669.13,78.24 667.80,79.32 668.24,80.98 666.80,80.05 665.36,80.98 665.80,79.32 664.47,78.24 666.18,78.15" fill="#3a3a3a"/>
<polygon points="671.05,76.55 671.67,78.15 673.38,78.24 672.05,79.32 672.49,80.98 671.05,80.05 669.61,80.98 670.05,79.32 668.72,78.24 670.43,78.15" fill="#3a3a3a"/>
<polygon points="714.70,61.25 715.32,62.85 717.03,62.94 715.70,64.02 716.14,65.68 714.70,64.75 713.26,65.68 713.70,64.02 712.37,62.94 714.08,62.85" fill="#3a3a3a"/>
<polygon points="718.95,61.25 719.57,62.85 721.28,62.94 719.95,64.02 720.39,65.68 718.95,64.75 717.51,65.68 717.95,64.02 716.62,62.94 718.33,62.85" fill="#3a3a3a"/>
<polygon points="723.20,61.25 723.82,62.85 725.53,62.94 724.20,64.02 724.64,65.68 723.20,64.75 721.76,65.68 722.20,64.02 720.87,62.94 722.58,62.85" fill="#3a3a3a"/>
<polygon points="618.10,264.55 618.72,266.15 620.43,266.24 619.10,267.32 619.54,268.98 618.10,268.05 616.66,268.98 617.10,267.32 615.77,266.24 617.48,266.15" fill="#3a3a3a"/>
<polygon points="622.35,264.55 622.97,266.15 624.68,266.24 623.35,267.32 623.79,268.98 622.35,268.05 620.91,268.98 621.35,267.32 620.02,266.24 621.73,266.15" fill="#3a3a3a"/>
<line x1="62.10" y1="12.50" x2="209.90" y2="12.50" stroke="#111" stroke-width="1.6"/>
<path d="M131.15,3.00 L132.65,3.00 L132.45,12.50 L131.35,12.50 Z" fill="#444"/><rect x="129.30" y="4.95" width="5.20" height="1.1" fill="#222"/>
<line x1="62.10" y1="34.50" x2="161.50" y2="34.50" stroke="#111" stroke-width="1.6"/>
<path d="M106.25,25.20 L107.75,25.20 L107.55,34.50 L106.45,34.50 Z" fill="#444"/><rect x="104.40" y="27.15" width="5.20" height="1.1" fill="#222"/>
<path d="M111.85,25.20 L113.35,25.20 L113.15,34.50 L112.05,34.50 Z" fill="#444"/><rect x="110.00" y="27.15" width="5.20" height="1.1" fill="#222"/>
<path d="M117.45,25.20 L118.95,25.20 L118.75,34.50 L117.65,34.50 Z" fill="#444"/><rect x="115.60" y="27.15" width="5.20" height="1.1" fill="#222"/>
<line x1="314.20" y1="20.20" x2="462.40" y2="20.20" stroke="#111" stroke-width="1.6"/>
<path d="M383.75,10.40 L385.25,10.40 L385.05,20.20 L383.95,20.20 Z" fill="#444"/><rect x="381.90" y="12.35" width="5.20" height="1.1" fill="#222"/>
<text x="608.6" y="285.1" textLength="24.2" lengthAdjust="spacingAndGlyphs" class="mu">(MUO)</text>
<circle cx="745.1" cy="190.3" r="2.6" fill="#fff" stroke="#333" stroke-width="0.9"/>
<line x1="736.20" y1="190.50" x2="753.60" y2="190.50" stroke="#333" stroke-width="1"/>
<text x="760.5" y="194.9" class="lg">MHO</text>
<line x1="737.10" y1="206.20" x2="754.90" y2="206.20" stroke="#333" stroke-width="1"/>
<circle cx="745.8" cy="206.2" r="3.0" fill="#111"/>
<text x="760.5" y="209.7" class="lg">MUO</text>
</svg>
</body></html>
